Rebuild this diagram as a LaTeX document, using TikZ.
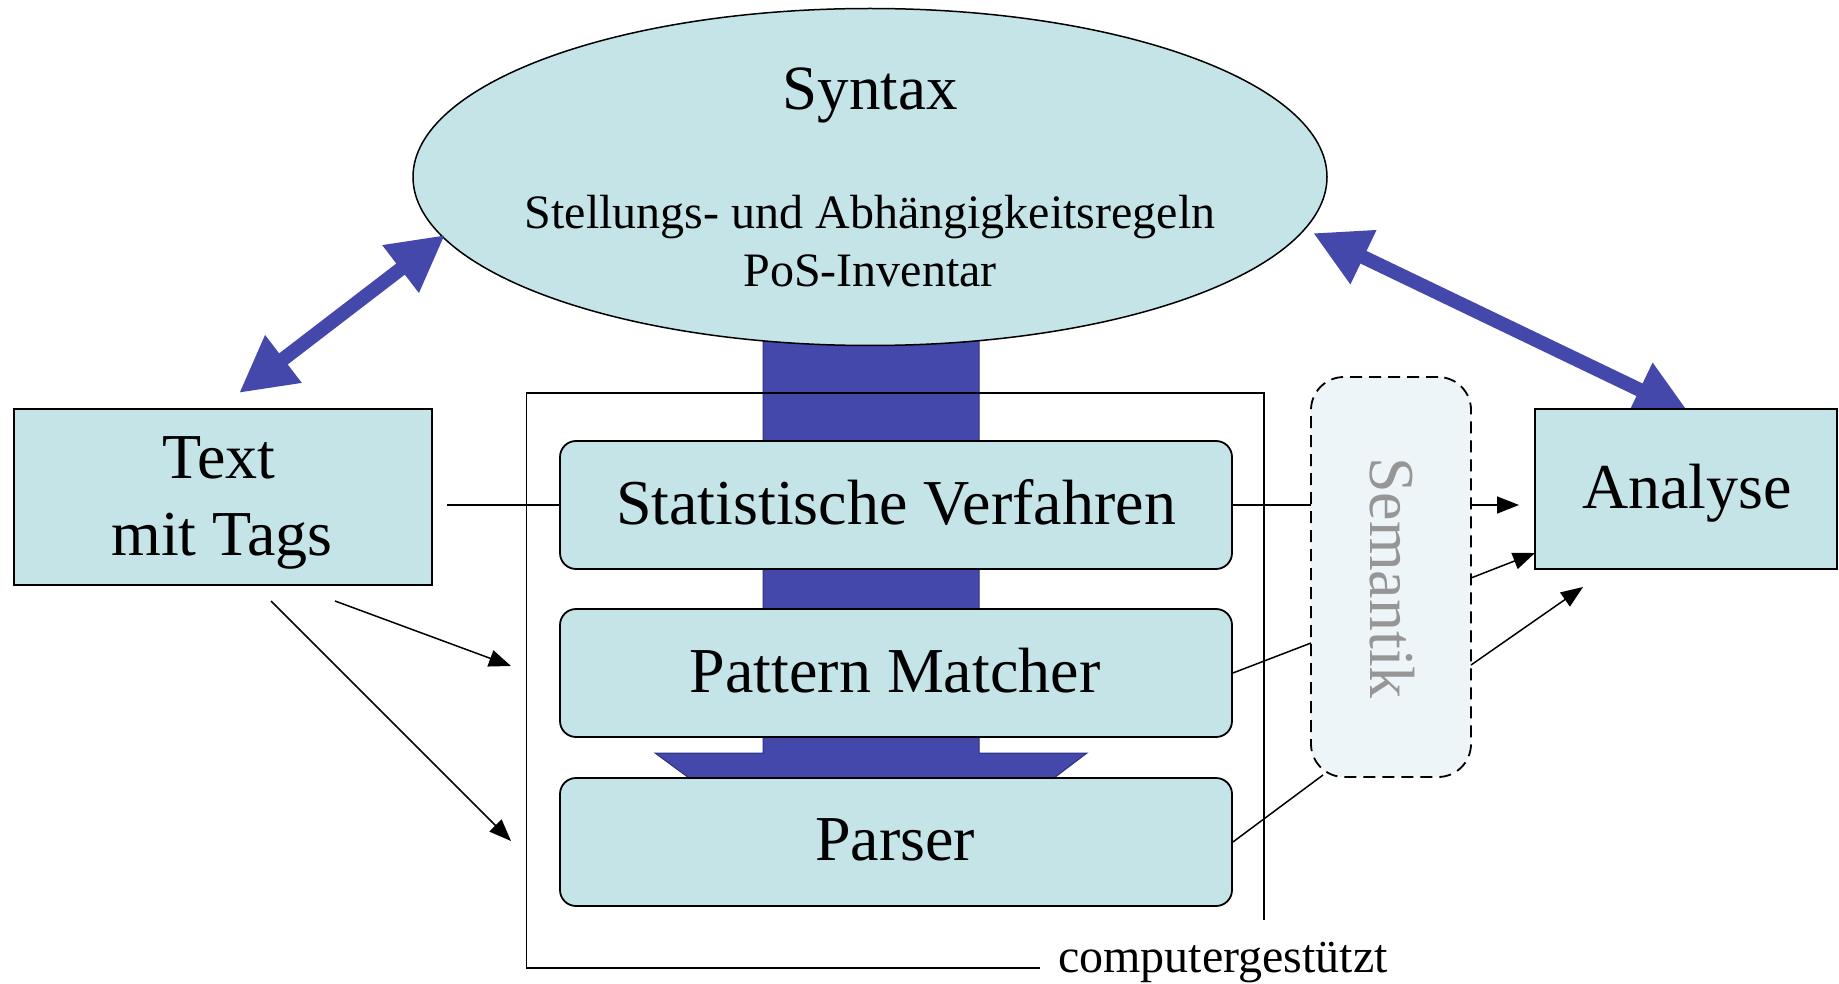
\documentclass[tikz,border=0pt]{standalone}
\usepackage{fontspec}
\setmainfont{Liberation Serif}
\usetikzlibrary{arrows.meta,shapes.geometric,calc}
\definecolor{boxcyan}{RGB}{197,228,232}
\definecolor{barblue}{RGB}{68,72,170}
\definecolor{barline}{RGB}{45,48,130}
\definecolor{semfill}{RGB}{237,245,248}
\definecolor{semgray}{RGB}{150,150,150}
\begin{document}
\begin{tikzpicture}[x=1pt,y=-1pt,
  bigtext/.style={font=\fontsize{64}{76}\selectfont, inner sep=0pt, anchor=base},
  midtext/.style={font=\fontsize{48}{58}\selectfont, inner sep=0pt, anchor=base},
  sqbox/.style={draw=black, line width=1.8pt, fill=boxcyan, inner sep=0pt},
  rbox/.style={sqbox, rounded corners=16pt, minimum width=672pt, minimum height=128pt},
  bluearrow/.style={draw=barblue, line width=14pt,
     {Triangle[length=56pt,width=56pt]}-{Triangle[length=56pt,width=56pt]}},
  thinline/.style={draw=black, line width=1.5pt},
  thinarrow/.style={thinline, -{Triangle[length=22pt,width=17pt]}}
]
\useasboundingbox (0,0) rectangle (1839,984);

% blue block arrow behind everything
\draw[fill=barblue, draw=barline, line width=1pt]
  (763,300) -- (979,300) -- (979,753) -- (1087,753) -- (1054,778)
  -- (689,778) -- (655,753) -- (763,753) -- cycle;

% Syntax ellipse
\node[ellipse, draw=black, line width=1.5pt, fill=boxcyan, inner sep=0pt,
      minimum width=914pt, minimum height=337pt] (ell) at (870,177) {};
\node[bigtext, font=\fontsize{63}{76}\selectfont] (tsyn) at (870,110) {Syntax};
\node[midtext] (tstell) at (870,229) {Stellungs- und Abhängigkeitsregeln};
\node[midtext] (tpos) at (870,287) {PoS-Inventar};

% container (computergestuetzt)
\draw[thinline] (1040,968) -- (526.5,968) -- (526.5,393) -- (1264,393) -- (1264,920);
\node[midtext] (tcomp) at (1223,972) {computergestützt};

% blue double arrows
\coordinate (la1) at (239,393);
\coordinate (la2) at (445,235);
\coordinate (ra1) at (1313,233);
\coordinate (ra2) at (1690,414);
\draw[bluearrow] (la1) -- (la2);
\draw[bluearrow] (ra1) -- (ra2);

% boxes
\node[sqbox, minimum width=418pt, minimum height=176pt] (textbox) at (223,497) {};
\node[bigtext] (ttext1) at (219,478) {Text};
\node[bigtext] (ttext2) at (222,555) {mit Tags};

\node[rbox] (stat) at (896,505) {};
\node[bigtext] (tstat) at (896,524) {Statistische Verfahren};
\node[rbox] (pat) at (896,673) {};
\node[bigtext] (tpat) at (895,692) {Pattern Matcher};
\node[rbox] (pars) at (896,842) {};
\node[bigtext] (tpars) at (895,860) {Parser};

\node[sqbox, minimum width=302pt, minimum height=160pt] (ana) at (1686,489) {};
\node[bigtext] (tana) at (1687,508) {Analyse};

\node[draw=black, line width=1.8pt, dash pattern=on 12pt off 7pt, fill=semfill,
      rounded corners=33pt, minimum width=160pt, minimum height=400pt, inner sep=0pt]
      (sem) at (1391,577) {};
\node[bigtext, text=semgray, rotate=-90] (tsem) at (1370,578) {Semantik};

% thin connectors
\coordinate (tx0) at (447,505);
\coordinate (tx1) at (335,601);
\coordinate (tx1e) at (511,666);
\coordinate (tx2) at (271,601);
\coordinate (tx2e) at (511,841);
\draw[thinline] (tx0) -- (stat.west);
\draw[thinarrow] (tx1) -- (tx1e);
\draw[thinarrow] (tx2) -- (tx2e);

\coordinate (s1) at (1311,505);
\coordinate (s1r) at (1471,505);
\coordinate (a1) at (1519,505);
\coordinate (s2) at (1311,643);
\coordinate (s2r) at (1471,578);
\coordinate (a2) at (1535,553);
\coordinate (s3) at (1323,775);
\coordinate (s3r) at (1471,665);
\coordinate (a3) at (1583,587);
\draw[thinline] (stat.east) -- (s1);
\draw[thinarrow] (s1r) -- (a1);
\draw[thinline] (pat.east) -- (s2);
\draw[thinarrow] (s2r) -- (a2);
\draw[thinline] (pars.east) -- (s3);
\draw[thinarrow] (s3r) -- (a3);
\end{tikzpicture}
\end{document}
